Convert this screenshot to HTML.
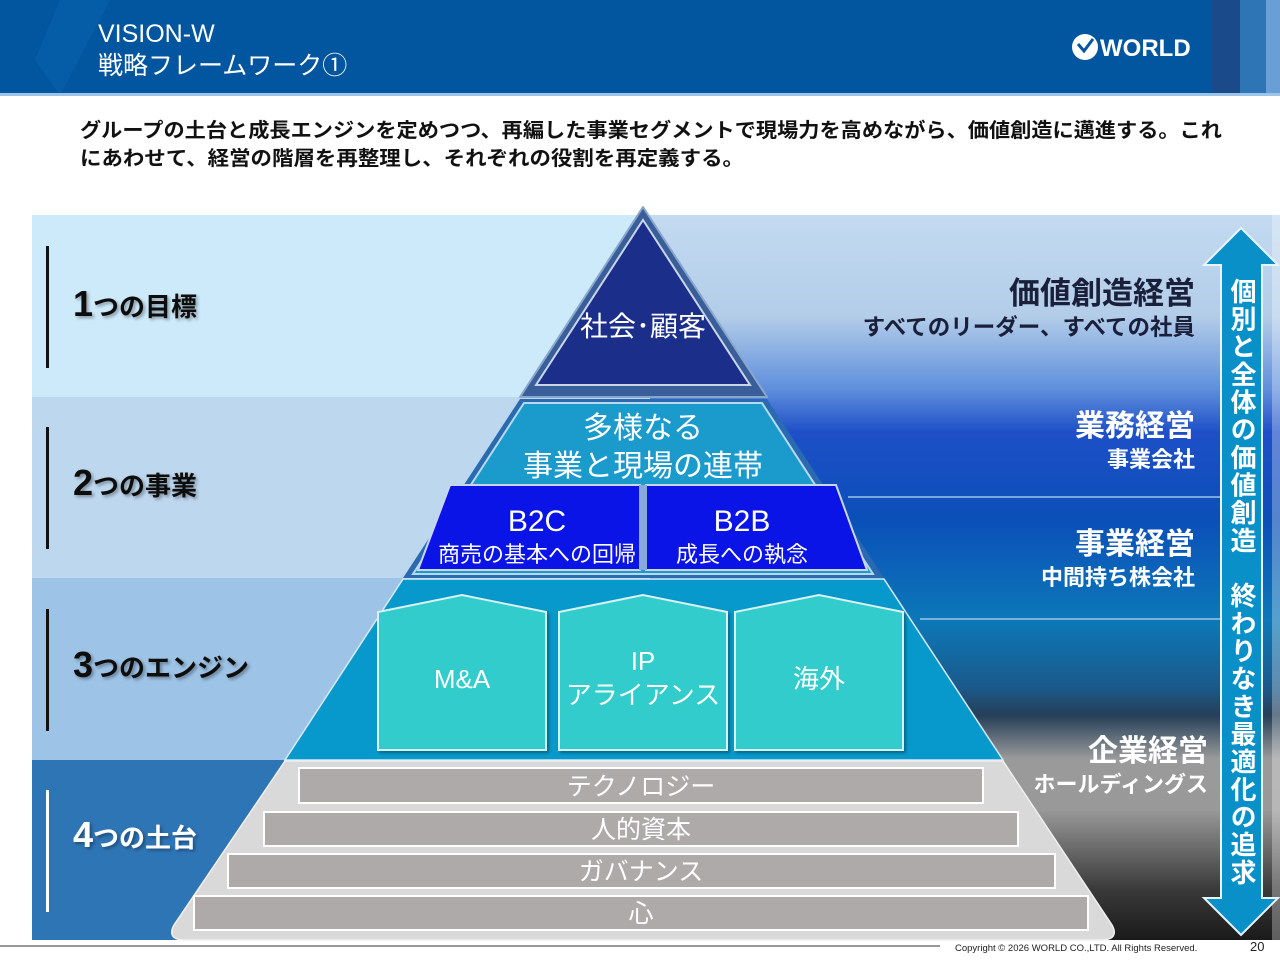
<!DOCTYPE html>
<html><head><meta charset="utf-8"><style>
html,body{margin:0;padding:0;background:#fff;}
svg{display:block;font-family:"Liberation Sans","Noto Sans CJK JP",sans-serif;}
</style></head><body>
<svg width="1280" height="960" viewBox="0 0 1280 960" xmlns="http://www.w3.org/2000/svg">
<defs>
<linearGradient id="rg" x1="0" y1="215" x2="0" y2="940" gradientUnits="userSpaceOnUse">
<stop offset="0" stop-color="#c3daf0"/>
<stop offset="0.14" stop-color="#b3cde9"/>
<stop offset="0.24" stop-color="#5f8fdc"/>
<stop offset="0.30" stop-color="#1e4fc8"/>
<stop offset="0.42" stop-color="#0b4fb8"/>
<stop offset="0.56" stop-color="#0c78b8"/>
<stop offset="0.65" stop-color="#1a5a8c"/>
<stop offset="0.69" stop-color="#253f58"/>
<stop offset="0.75" stop-color="#9a9a9a"/>
<stop offset="0.82" stop-color="#999"/>
<stop offset="0.93" stop-color="#3a3a3a"/>
<stop offset="1" stop-color="#1a1a1a"/>
</linearGradient>
<filter id="sh" x="-10%" y="-10%" width="130%" height="130%"><feDropShadow dx="2" dy="2" stdDeviation="1.5" flood-color="#000" flood-opacity="0.35"/></filter>
</defs>
<rect x="0" y="0" width="1280" height="95" fill="#02559f"/>
<path d="M60 0 L110 0 L60 95 L35 60 Z" fill="#0a62ad" opacity="0.6"/>
<rect x="1212" y="0" width="28" height="95" fill="#1b4a8a"/>
<rect x="1240" y="0" width="26" height="95" fill="#2e75b6"/>
<rect x="1266" y="0" width="14" height="95" fill="#6a9fd6"/>
<rect x="0" y="93" width="1280" height="3" fill="#9dc3e6"/>
<text x="98" y="42" font-size="25" fill="#fff">VISION-W</text>
<text x="98" y="74" font-size="25" fill="#fff">戦略フレームワーク①</text>
<circle cx="1085" cy="47" r="13" fill="#fff"/>
<path d="M1078 44 l6 7 l9 -12" stroke="#02559f" stroke-width="3" fill="none"/>
<text x="1100" y="56" font-size="24" font-weight="bold" fill="#fff">WORLD</text>
<text x="80" y="137" font-size="20" font-weight="bold" fill="#111" textLength="1142" lengthAdjust="spacingAndGlyphs">グループの土台と成長エンジンを定めつつ、再編した事業セグメントで現場力を高めながら、価値創造に邁進する。これ</text>
<text x="80" y="165" font-size="20" font-weight="bold" fill="#111" textLength="664" lengthAdjust="spacingAndGlyphs">にあわせて、経営の階層を再整理し、それぞれの役割を再定義する。</text>
<rect x="32" y="215" width="700" height="182" fill="#cdeafb"/>
<rect x="32" y="397" width="700" height="181" fill="#bdd7ee"/>
<rect x="32" y="578" width="700" height="182" fill="#9dc3e6"/>
<rect x="32" y="760" width="700" height="180" fill="#2e75b6"/>
<rect x="650" y="215" width="630" height="725" fill="url(#rg)"/>
<rect x="1272" y="215" width="8" height="725" fill="#fff" opacity="0.3"/>
<line x1="848" y1="497" x2="1222" y2="497" stroke="#9cc4ea" stroke-width="1.5"/>
<line x1="920" y1="619" x2="1222" y2="619" stroke="#9cc4ea" stroke-width="1.5"/>
<rect x="46" y="246" width="3" height="122" fill="#111"/>
<rect x="46" y="427" width="3" height="122" fill="#111"/>
<rect x="46" y="609" width="3" height="122" fill="#111"/>
<rect x="46" y="790" width="3" height="122" fill="#fff"/>
<g font-weight="bold" filter="url(#sh)">
<text x="73" y="316" fill="#111" font-size="36">1<tspan font-size="26">つの目標</tspan></text>
<text x="73" y="495" fill="#111" font-size="36">2<tspan font-size="26">つの事業</tspan></text>
<text x="73" y="677" fill="#111" font-size="36">3<tspan font-size="26">つのエンジン</tspan></text>
<text x="73" y="847" fill="#fff" font-size="36">4<tspan font-size="26">つの土台</tspan></text>
</g>
<path d="M643 207 L767 397 L520 397 Z" fill="#3a5e9a" stroke="#8aa6cc" stroke-width="2" stroke-linejoin="round"/>
<path d="M643 220 L750 385 L536 385 Z" fill="#1a2e8a" stroke="#c9d6ea" stroke-width="2"/>
<text x="643" y="336" font-size="28" fill="#fff" text-anchor="middle">社会･顧客</text>
<path d="M520 399 L767 399 L884 578 L403 578 Z" fill="#2a6ab0"/>
<path d="M524 403 L762 403 L873 574 L413 574 Z" fill="#1a9bcc" stroke="#b8d8ee" stroke-width="2"/>
<text x="643" y="438" font-size="30" fill="#fff" text-anchor="middle">多様なる</text>
<text x="643" y="476" font-size="30" fill="#fff" text-anchor="middle">事業と現場の連帯</text>
<path d="M450 485 L640 485 L640 570 L418 570 Z" fill="#0a14e6" stroke="#c9d6ea" stroke-width="2"/>
<path d="M646 485 L836 485 L867 570 L646 570 Z" fill="#0a14e6" stroke="#c9d6ea" stroke-width="2"/>
<rect x="639" y="485" width="8" height="85" fill="#8aa8d8"/>
<text x="537" y="531" font-size="30" fill="#fff" text-anchor="middle">B2C</text>
<text x="537" y="562" font-size="22" fill="#fff" text-anchor="middle">商売の基本への回帰</text>
<text x="742" y="531" font-size="30" fill="#fff" text-anchor="middle">B2B</text>
<text x="742" y="562" font-size="22" fill="#fff" text-anchor="middle">成長への執念</text>
<path d="M403 579 L884 579 L1003 760 L285 760 Z" fill="#0799cb" stroke="#d8eaf6" stroke-width="1.5"/>
<g fill="#33cccc" stroke="#d6f2f2" stroke-width="2" filter="url(#sh)">
<path d="M378 612 L462 595 L546 612 L546 750 L378 750 Z"/>
<path d="M559 612 L643 595 L727 612 L727 750 L559 750 Z"/>
<path d="M735 612 L819 595 L903 612 L903 750 L735 750 Z"/>
</g>
<text x="462" y="688" font-size="26" fill="#fff" text-anchor="middle">M&amp;A</text>
<text x="643" y="670" font-size="26" fill="#fff" text-anchor="middle">IP</text>
<text x="643" y="704" font-size="26" fill="#fff" text-anchor="middle">アライアンス</text>
<text x="819" y="688" font-size="26" fill="#fff" text-anchor="middle">海外</text>
<path d="M285 761 L1003 761 L1112 925 Q1120 940 1100 940 L186 940 Q166 940 174 925 Z" fill="#d9d9d9" stroke="#f0f0f0" stroke-width="1.5"/>
<g fill="#aeaaaa" stroke="#fff" stroke-width="2">
<rect x="299" y="768" width="684" height="35"/>
<rect x="264" y="812" width="754" height="34"/>
<rect x="228" y="854" width="827" height="34"/>
<rect x="194" y="896" width="894" height="34"/>
</g>
<g font-size="25" fill="#fff" text-anchor="middle">
<text x="641" y="795">テクノロジー</text>
<text x="641" y="838">人的資本</text>
<text x="641" y="880">ガバナンス</text>
<text x="641" y="922">心</text>
</g>
<g text-anchor="end" font-weight="bold">
<text x="1195" y="304" font-size="31" fill="#1a1f3a">価値創造経営</text>
<text x="1195" y="335" font-size="22.5" fill="#1a1f3a">すべてのリーダー、すべての社員</text>
<text x="1195" y="436" font-size="30" fill="#fff">業務経営</text>
<text x="1195" y="467" font-size="22" fill="#fff">事業会社</text>
<text x="1195" y="554" font-size="30" fill="#fff">事業経営</text>
<text x="1195" y="585" font-size="22" fill="#fff">中間持ち株会社</text>
<text x="1208" y="761" font-size="30" fill="#fff">企業経営</text>
<text x="1208" y="792" font-size="22" fill="#fff">ホールディングス</text>
</g>
<path d="M1241 228 L1278 265 L1262 265 L1262 898 L1278 898 L1241 935 L1204 898 L1221 898 L1221 265 L1204 265 Z" fill="#0a90c8" stroke="#e8f4fb" stroke-width="2"/>
<text x="1242" y="278" font-size="26" font-weight="bold" fill="#fff" style="writing-mode:vertical-rl;glyph-orientation-vertical:0" textLength="607" lengthAdjust="spacing">個別と全体の価値創造　終わりなき最適化の追求</text>
<line x1="0" y1="946" x2="940" y2="946" stroke="#777" stroke-width="1.5"/>
<text x="955" y="951" font-size="9.5" fill="#222">Copyright © 2026 WORLD CO.,LTD. All Rights Reserved.</text>
<text x="1250" y="951" font-size="13" fill="#222">20</text>
</svg>
</body></html>
